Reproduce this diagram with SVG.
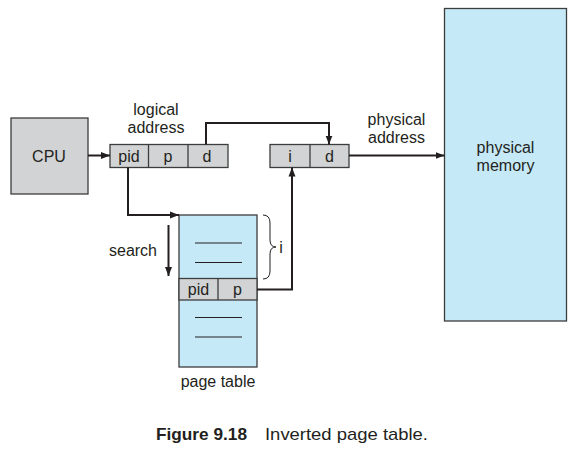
<svg xmlns="http://www.w3.org/2000/svg" width="579" height="451" viewBox="0 0 579 451">
<defs>
<marker id="ah" markerWidth="10" markerHeight="8" refX="9" refY="4" orient="auto" markerUnits="userSpaceOnUse">
<path d="M0,0.5 L9,4 L0,7.5 Z" fill="#231f20"/>
</marker>
</defs>
<style>
text{font-family:"Liberation Sans",Arial,sans-serif;font-size:16px;fill:#231f20;text-anchor:middle}
.gray{fill:#d1d3d4;stroke:#3c3c3c;stroke-width:1.3}
.blue{fill:#c6e9f8;stroke:#3c3c3c;stroke-width:1.3}
.div{stroke:#3c3c3c;stroke-width:1.3;fill:none}
.ln{stroke:#231f20;stroke-width:1;fill:none}
.conn{stroke:#231f20;stroke-width:2;fill:none}
</style>
<rect width="579" height="451" fill="#ffffff"/>

<g id="cpu">
<rect class="gray" x="11" y="118" width="77" height="76"/>
<text x="49" y="162">CPU</text>
</g>

<g id="logical-address">
<rect class="gray" x="110" y="144.5" width="118" height="23"/>
<line class="div" x1="148.5" y1="144.5" x2="148.5" y2="167.5"/>
<line class="div" x1="188" y1="144.5" x2="188" y2="167.5"/>
<text x="129" y="162">pid</text>
<text x="168" y="162">p</text>
<text x="207" y="162">d</text>
<text x="156" y="115">logical</text>
<text x="156" y="133">address</text>
</g>

<g id="physical-address">
<rect class="gray" x="270" y="144.5" width="79" height="23"/>
<line class="div" x1="310" y1="144.5" x2="310" y2="167.5"/>
<text x="290" y="162">i</text>
<text x="329.5" y="162">d</text>
<text x="396.5" y="125">physical</text>
<text x="396.5" y="142.5">address</text>
</g>

<g id="page-table">
<rect class="blue" x="179" y="215" width="78" height="152"/>
<rect class="gray" x="179" y="278.5" width="78" height="21.5"/>
<line class="div" x1="218" y1="278.5" x2="218" y2="300"/>
<text x="198.5" y="295">pid</text>
<text x="237.5" y="295">p</text>
<line class="ln" x1="195" y1="243" x2="242" y2="243"/>
<line class="ln" x1="195" y1="262.5" x2="242" y2="262.5"/>
<line class="ln" x1="195" y1="317.5" x2="242" y2="317.5"/>
<line class="ln" x1="195" y1="337" x2="242" y2="337"/>
<text x="218" y="387">page table</text>
</g>

<g id="brace">
<path class="ln" d="M263,215 Q270,215 270,223 V240 Q270,247 276,247 Q270,247 270,254 V271 Q270,279 263,279"/>
<text x="281" y="253">i</text>
</g>

<g id="search">
<text x="133" y="256">search</text>
</g>

<g id="physical-memory">
<rect class="blue" x="444.5" y="8.5" width="122" height="312.5"/>
<text x="505.5" y="153">physical</text>
<text x="505.5" y="170.5">memory</text>
</g>

<g id="connectors">
<line class="conn" x1="88" y1="155.5" x2="110" y2="155.5" marker-end="url(#ah)"/>
<path class="conn" d="M206,144.5 V123 H329 V144.5" marker-end="url(#ah)"/>
<path class="conn" d="M128,167.5 V215 H179" marker-end="url(#ah)"/>
<path class="conn" d="M257,289.5 H292 V167.5" marker-end="url(#ah)"/>
<line class="conn" x1="168.5" y1="225" x2="168.5" y2="276" marker-end="url(#ah)"/>
<line class="conn" x1="349" y1="155.5" x2="444.5" y2="155.5" marker-end="url(#ah)"/>
</g>

<g id="caption">
<text x="156" y="440" style="text-anchor:start;font-weight:bold;font-size:17px" textLength="91" lengthAdjust="spacingAndGlyphs">Figure 9.18</text>
<text x="265" y="440" style="text-anchor:start;font-size:17px" textLength="163" lengthAdjust="spacingAndGlyphs">Inverted page table.</text>
</g>
</svg>
